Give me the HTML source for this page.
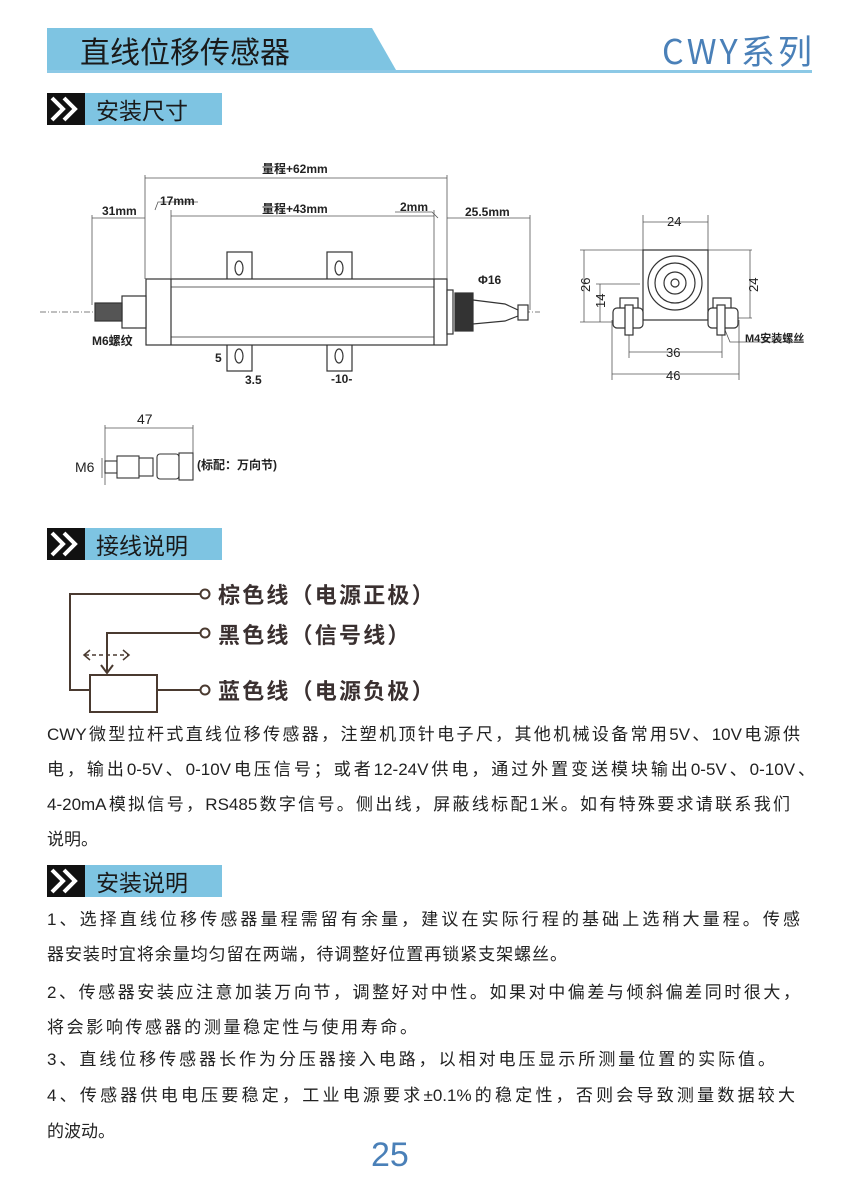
<!DOCTYPE html>
<html><head><meta charset="utf-8">
<style>
html,body{margin:0;padding:0;background:#fff;}
body{width:844px;height:1193px;position:relative;overflow:hidden;font-family:"Liberation Sans","Noto Sans CJK SC",sans-serif;color:#222;}
.p{position:absolute;left:47px;font-size:17px;color:#222;white-space:nowrap;height:24px;line-height:24px;}
.j{text-align:justify;text-align-last:justify;white-space:normal;}
</style></head><body>
<svg width="844" height="1193" style="position:absolute;left:0;top:0" font-family="Liberation Sans, Noto Sans CJK SC, sans-serif">
<polygon points="47,28 372,28 396,70 47,70" fill="#7ec4e2"/>
<rect x="47" y="70" width="765" height="3" fill="#8cc9e6"/>
<text x="80" y="63" font-size="30" fill="#1a1a1a" font-family="Noto Sans CJK SC, sans-serif">直线位移传感器</text>
<text x="662" y="64" font-size="34" fill="#4a80b8" font-family="Noto Sans CJK SC, sans-serif" textLength="150">CWY系列</text>

<g id="sh1">
<rect x="47" y="93" width="38" height="32" fill="#111"/>
<polyline points="52,98 63,109 52,120" fill="none" stroke="#fff" stroke-width="4"/>
<polyline points="64,98 75,109 64,120" fill="none" stroke="#fff" stroke-width="4"/>
<rect x="85" y="93" width="137" height="32" fill="#7ec4e2"/>
<text x="96" y="119" font-size="23" fill="#1a1a1a" font-family="Noto Sans CJK SC, sans-serif">安装尺寸</text>
</g>
<g transform="translate(0,435)">
<rect x="47" y="93" width="38" height="32" fill="#111"/>
<polyline points="52,98 63,109 52,120" fill="none" stroke="#fff" stroke-width="4"/>
<polyline points="64,98 75,109 64,120" fill="none" stroke="#fff" stroke-width="4"/>
<rect x="85" y="93" width="137" height="32" fill="#7ec4e2"/>
<text x="96" y="119" font-size="23" fill="#1a1a1a" font-family="Noto Sans CJK SC, sans-serif">接线说明</text>
</g>
<g transform="translate(0,772)">
<rect x="47" y="93" width="38" height="32" fill="#111"/>
<polyline points="52,98 63,109 52,120" fill="none" stroke="#fff" stroke-width="4"/>
<polyline points="64,98 75,109 64,120" fill="none" stroke="#fff" stroke-width="4"/>
<rect x="85" y="93" width="137" height="32" fill="#7ec4e2"/>
<text x="96" y="119" font-size="23" fill="#1a1a1a" font-family="Noto Sans CJK SC, sans-serif">安装说明</text>
</g>

<g stroke="#555" stroke-width="0.8" fill="none">
<line x1="145" y1="175" x2="145" y2="279"/><line x1="447" y1="175" x2="447" y2="279"/>
<line x1="145" y1="178" x2="447" y2="178"/>
<line x1="171" y1="216" x2="434" y2="216"/><line x1="171" y1="210" x2="171" y2="279"/><line x1="434" y1="210" x2="434" y2="279"/>
<line x1="92" y1="218" x2="145" y2="218"/><line x1="92" y1="215" x2="92" y2="305"/>
<line x1="447" y1="218" x2="530" y2="218"/><line x1="530" y1="215" x2="530" y2="310"/>
<polyline points="155,210 158,202 198,202"/>
<polyline points="395,212 432,212 438,218"/>
<line x1="40" y1="312" x2="540" y2="312" stroke-dasharray="6,2,1,2"/>
</g>
<g stroke="#333" stroke-width="1.2" fill="#fff">
<rect x="227" y="252" width="25" height="28"/><rect x="327" y="252" width="25" height="28"/>
<rect x="227" y="344" width="25" height="27"/><rect x="327" y="344" width="25" height="27"/>
<ellipse cx="239" cy="268" rx="4" ry="7"/><ellipse cx="339" cy="268" rx="4" ry="7"/>
<ellipse cx="239" cy="356" rx="4" ry="7"/><ellipse cx="339" cy="356" rx="4" ry="7"/>
<rect x="146" y="279" width="301" height="66"/>
<line x1="171" y1="279" x2="171" y2="345"/><line x1="434" y1="279" x2="434" y2="345"/>
<line x1="171" y1="287" x2="434" y2="287" stroke-width="0.7"/><line x1="171" y1="337" x2="434" y2="337" stroke-width="0.7"/>
<rect x="447" y="290" width="6" height="44"/>
<rect x="122" y="296" width="24" height="32"/>
<rect x="95" y="303" width="27" height="18" fill="#555"/>
<rect x="455" y="293" width="18" height="38" fill="#333"/>
<polygon points="473,300 505,304 518,310 518,316 505,321 473,324"/>
<rect x="518" y="305" width="10" height="15"/>
</g>
<g font-size="12" fill="#222" font-weight="bold">
<text x="262" y="173">量程+62mm</text>
<text x="262" y="213">量程+43mm</text>
<text x="102" y="215">31mm</text>
<text x="160" y="205">17mm</text>
<text x="400" y="211">2mm</text>
<text x="465" y="216">25.5mm</text>
<text x="478" y="284">Φ16</text>
<text x="92" y="345">M6螺纹</text>
<text x="215" y="362">5</text>
<text x="245" y="384">3.5</text>
<text x="331" y="383">-10-</text>
</g>
<g stroke="#555" stroke-width="0.8" fill="none">
<line x1="643" y1="215" x2="643" y2="250"/><line x1="708" y1="215" x2="708" y2="250"/>
<line x1="643" y1="222" x2="708" y2="222"/>
<line x1="580" y1="250" x2="643" y2="250"/><line x1="580" y1="322" x2="643" y2="322"/>
<line x1="584" y1="250" x2="584" y2="322"/>
<line x1="600" y1="284" x2="600" y2="322"/><line x1="596" y1="284" x2="640" y2="284"/>
<line x1="708" y1="250" x2="752" y2="250"/><line x1="708" y1="318" x2="752" y2="318"/>
<line x1="750" y1="250" x2="750" y2="318"/>
<line x1="629" y1="330" x2="629" y2="358"/><line x1="722" y1="330" x2="722" y2="358"/>
<line x1="629" y1="352" x2="722" y2="352"/>
<line x1="612" y1="320" x2="612" y2="380"/><line x1="739" y1="320" x2="739" y2="380"/>
<line x1="612" y1="374" x2="739" y2="374"/>
<polyline points="725,330 730,342 800,342"/>
</g>
<g stroke="#333" stroke-width="1.2" fill="#fff">
<rect x="643" y="250" width="65" height="70"/>
<circle cx="675" cy="283" r="27"/><circle cx="675" cy="283" r="20"/><circle cx="675" cy="283" r="11"/><circle cx="675" cy="283" r="4"/>
<rect x="620" y="298" width="18" height="20"/><rect x="713" y="298" width="18" height="20"/>
<rect x="613" y="308" width="30" height="20" rx="4"/><rect x="708" y="308" width="30" height="20" rx="4"/>
<rect x="625" y="305" width="8" height="30"/><rect x="717" y="305" width="8" height="30"/>
</g>
<g font-size="13" fill="#222">
<text x="667" y="226">24</text><text x="666" y="357">36</text><text x="666" y="380">46</text>
<text x="590" y="292" transform="rotate(-90 590 292)">26</text>
<text x="605" y="308" transform="rotate(-90 605 308)">14</text>
<text x="758" y="292" transform="rotate(-90 758 292)">24</text>
<text x="745" y="342" font-size="11" font-weight="bold">M4安装螺丝</text>
</g>
<g stroke="#555" stroke-width="0.8" fill="none">
<line x1="105" y1="425" x2="105" y2="485"/><line x1="193" y1="425" x2="193" y2="480"/>
<line x1="105" y1="428" x2="193" y2="428"/>
<line x1="102" y1="458" x2="102" y2="478"/>
</g>
<g stroke="#333" stroke-width="1.1" fill="#fff">
<rect x="105" y="461" width="12" height="12"/>
<rect x="117" y="456" width="22" height="22"/>
<rect x="139" y="458" width="14" height="18"/>
<rect x="157" y="454" width="22" height="25" rx="3"/>
<rect x="179" y="453" width="14" height="27"/>
</g>
<text x="137" y="424" font-size="14" fill="#222">47</text>
<text x="75" y="472" font-size="14" fill="#222">M6</text>
<text x="197" y="469" font-size="12" fill="#222" font-weight="bold">(标配：万向节)</text>

<g stroke="#4a3a30" stroke-width="2" fill="none">
<polyline points="200,594 70,594 70,690 90,690"/>
<rect x="90" y="675" width="67" height="37"/>
<polyline points="200,633 107,633 107,672"/>
<polyline points="101,665 107,673 113,665"/>
<line x1="157" y1="690" x2="200" y2="690"/>
<line x1="85" y1="655" x2="128" y2="655" stroke-dasharray="4,3" stroke-width="1.5"/>
<polyline points="90,650 84,655 90,660" stroke-width="1.5"/><polyline points="123,650 129,655 123,660" stroke-width="1.5"/>
<circle cx="205" cy="594" r="4.5" fill="#fff"/><circle cx="205" cy="633" r="4.5" fill="#fff"/><circle cx="205" cy="690" r="4.5" fill="#fff"/>
</g>
<g font-size="22" fill="#3a3030" font-family="Noto Sans CJK SC, sans-serif" font-weight="bold" letter-spacing="2.2">
<text x="218" y="603">棕色线（电源正极）</text>
<text x="218" y="643">黑色线（信号线）</text>
<text x="218" y="699">蓝色线（电源负极）</text>
</g>
<text x="371" y="1166" font-size="34" fill="#4a80b8">25</text>
</svg>
<div class="p j" style="top:723px;width:753px">CWY微型拉杆式直线位移传感器，注塑机顶针电子尺，其他机械设备常用5V、10V电源供</div>
<div class="p j" style="top:758px;width:768px">电，输出0-5V、0-10V电压信号；或者12-24V供电，通过外置变送模块输出0-5V、0-10V、</div>
<div class="p j" style="top:793px;width:743px">4-20mA模拟信号，RS485数字信号。侧出线，屏蔽线标配1米。如有特殊要求请联系我们</div>
<div class="p" style="top:828px">说明。</div>
<div class="p j" style="top:908px;width:753px">1、选择直线位移传感器量程需留有余量，建议在实际行程的基础上选稍大量程。传感</div>
<div class="p j" style="top:943px;width:520px">器安装时宜将余量均匀留在两端，待调整好位置再锁紧支架螺丝。</div>
<div class="p j" style="top:981px;width:753px">2、传感器安装应注意加装万向节，调整好对中性。如果对中偏差与倾斜偏差同时很大，</div>
<div class="p j" style="top:1016px;width:370px">将会影响传感器的测量稳定性与使用寿命。</div>
<div class="p j" style="top:1048px;width:728px">3、直线位移传感器长作为分压器接入电路，以相对电压显示所测量位置的实际值。</div>
<div class="p j" style="top:1084px;width:748px">4、传感器供电电压要稳定，工业电源要求±0.1%的稳定性，否则会导致测量数据较大</div>
<div class="p" style="top:1120px">的波动。</div>
</body></html>
